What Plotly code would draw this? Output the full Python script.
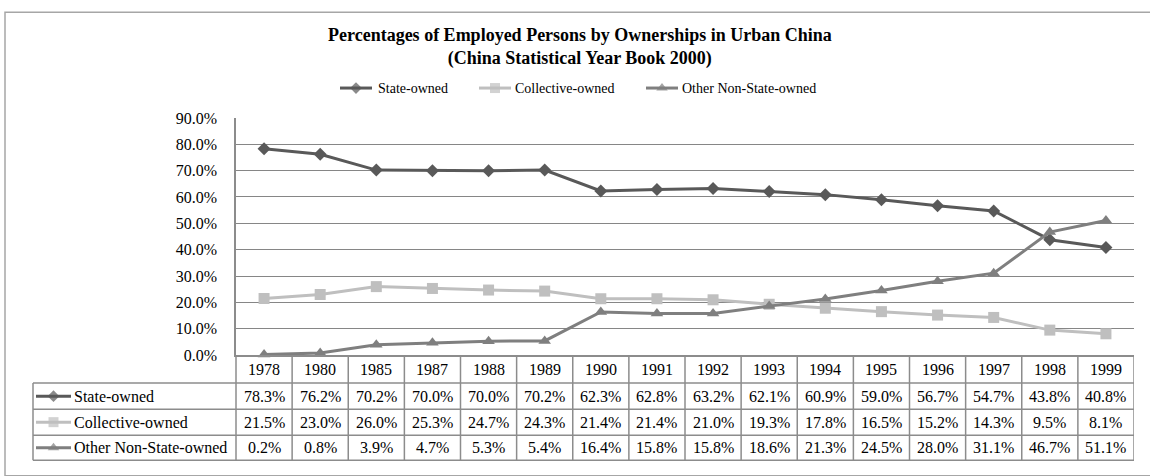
import plotly.graph_objects as go

# ---- data -------------------------------------------------------------
years = ["1978", "1980", "1985", "1987", "1988", "1989", "1990", "1991",
         "1992", "1993", "1994", "1995", "1996", "1997", "1998", "1999"]
state_owned = [78.3, 76.2, 70.2, 70.0, 70.0, 70.2, 62.3, 62.8,
               63.2, 62.1, 60.9, 59.0, 56.7, 54.7, 43.8, 40.8]
collective_owned = [21.5, 23.0, 26.0, 25.3, 24.7, 24.3, 21.4, 21.4,
                    21.0, 19.3, 17.8, 16.5, 15.2, 14.3, 9.5, 8.1]
other_non_state = [0.2, 0.8, 3.9, 4.7, 5.3, 5.4, 16.4, 15.8,
                   15.8, 18.6, 21.3, 24.5, 28.0, 31.1, 46.7, 51.1]
series_names = ["State-owned", "Collective-owned", "Other Non-State-owned"]
y_ticks = [0, 10, 20, 30, 40, 50, 60, 70, 80, 90]

# ---- styling ----------------------------------------------------------
W, H = 1150, 476
FONT = "Liberation Serif"
colors = ["#595959", "#BFBFBF", "#7F7F7F"]
symbols = ["diamond", "square", "triangle-up"]
msizes = [10, 11, 11]
GRID = "#868686"
TABLE = "#8C8C8C"

# plot-area box in pixels
PL, PR, PT, PB = 236, 1134, 114, 360
# table geometry in pixels
TL = 33
row_edges = [360, 389, 416, 443, 469]


def px(x):
    return x / W


def py(y):
    return 1 - y / H


series = [state_owned, collective_owned, other_non_state]

fig = go.Figure()

for name, vals, c, s, ms in zip(series_names, series, colors, symbols, msizes):
    fig.add_trace(go.Scatter(
        x=years, y=[v / 100 for v in vals], name=name, mode="lines+markers",
        line=dict(color=c, width=3),
        marker=dict(symbol=s, size=ms, color=c, line=dict(width=0)),
        showlegend=False, cliponaxis=False,
    ))

shapes = []
annotations = []

# legend keys (top) and table row keys, drawn on a pixel-space helper axis
legend_keys = [(340, 376), (479, 513), (646, 680)]
for i, (name, c, s, ms) in enumerate(zip(series_names, colors, symbols, msizes)):
    kx, tx = legend_keys[i]
    ky = 83
    fig.add_trace(go.Scatter(
        x=[kx, kx + 16, kx + 32], y=[ky] * 3, mode="lines+markers",
        line=dict(color=c, width=3),
        marker=dict(symbol=s, size=[0, ms - 1, 0], color=c, line=dict(width=0)),
        xaxis="x2", yaxis="y2", showlegend=False, hoverinfo="skip",
    ))
    annotations.append(dict(
        x=px(tx), y=py(ky), xref="paper", yref="paper", text=name,
        showarrow=False, xanchor="left", yanchor="middle",
        font=dict(family=FONT, size=14, color="#000000"),
    ))
    # table row
    rc = (row_edges[i + 1] + row_edges[i + 2]) / 2
    fig.add_trace(go.Scatter(
        x=[36, 53.5, 71], y=[rc] * 3, mode="lines+markers",
        line=dict(color=c, width=3),
        marker=dict(symbol=s, size=[0, ms - 1, 0], color=c, line=dict(width=0)),
        xaxis="x2", yaxis="y2", showlegend=False, hoverinfo="skip",
    ))
    annotations.append(dict(
        x=px(72), y=py(rc), xref="paper", yref="paper", text=name,
        showarrow=False, xanchor="left", yanchor="middle",
        font=dict(family=FONT, size=16, color="#000000"),
    ))
    for j, v in enumerate(series[i]):
        annotations.append(dict(
            x=j, y=py(rc), xref="x", yref="paper", text=f"{v:.1f}%",
            showarrow=False, xanchor="center", yanchor="middle",
            font=dict(family=FONT, size=16, color="#000000"),
        ))

# year header row
hc = (row_edges[0] + row_edges[1]) / 2
for j, yr in enumerate(years):
    annotations.append(dict(
        x=j, y=py(hc), xref="x", yref="paper", text=yr,
        showarrow=False, xanchor="center", yanchor="middle",
        font=dict(family=FONT, size=16, color="#000000"),
    ))

# table grid lines
for yy in row_edges[1:]:
    shapes.append(dict(type="line", xref="paper", yref="paper",
                       x0=px(TL), x1=px(PR), y0=py(yy), y1=py(yy),
                       line=dict(color=TABLE, width=1.5)))
shapes.append(dict(type="line", xref="paper", yref="paper",
                   x0=px(TL), x1=px(TL), y0=py(row_edges[1]), y1=py(row_edges[-1]),
                   line=dict(color=TABLE, width=1.5)))
shapes.append(dict(type="line", xref="paper", yref="paper",
                   x0=px(PL), x1=px(PL), y0=py(row_edges[0]), y1=py(row_edges[-1]),
                   line=dict(color=TABLE, width=1.5)))
for j in range(len(years)):
    shapes.append(dict(type="line", xref="x", yref="paper",
                       x0=j + 0.5, x1=j + 0.5, y0=py(row_edges[0]), y1=py(row_edges[-1]),
                       line=dict(color=TABLE, width=1.5)))

# chart-area frame
shapes.append(dict(type="rect", xref="paper", yref="paper",
                   x0=px(5), x1=px(1153), y0=py(4.5), y1=py(485),
                   line=dict(color="#A6A6A6", width=1.5), layer="below"))

# title
annotations.append(dict(
    x=px(580), y=py(40), xref="paper", yref="paper",
    text="<b>Percentages of Employed Persons by Ownerships in Urban China</b><br>"
         "<b>(China Statistical Year Book 2000)</b>",
    showarrow=False, xanchor="center", yanchor="middle", align="center",
    font=dict(family=FONT, size=18, color="#000000"),
))

fig.update_layout(
    width=W, height=H, margin=dict(l=0, r=0, t=0, b=0),
    paper_bgcolor="white", plot_bgcolor="rgba(0,0,0,0)",
    showlegend=False,
    xaxis=dict(domain=[px(PL), px(PR)], type="category", range=[-0.5, 15.5],
               showticklabels=False, showgrid=False, zeroline=False,
               showline=True, linecolor=TABLE, linewidth=1.5, ticks=""),
    yaxis=dict(domain=[py(PB), py(PT)], range=[0, 0.9],
               tickvals=[t / 100 for t in y_ticks], tickformat=".1%",
               showgrid=True, gridcolor=GRID, gridwidth=1, zeroline=False,
               showline=True, linecolor=TABLE, linewidth=1.5,
               ticks="outside", ticklen=14, tickcolor="rgba(0,0,0,0)",
               tickfont=dict(family=FONT, size=16, color="#000000")),
    xaxis2=dict(domain=[0, 1], range=[0, W], visible=False, anchor="y2",
                fixedrange=True),
    yaxis2=dict(domain=[0, 1], range=[H, 0], visible=False, anchor="x2",
                fixedrange=True),
    shapes=shapes, annotations=annotations,
)

fig.write_html("out.html")
